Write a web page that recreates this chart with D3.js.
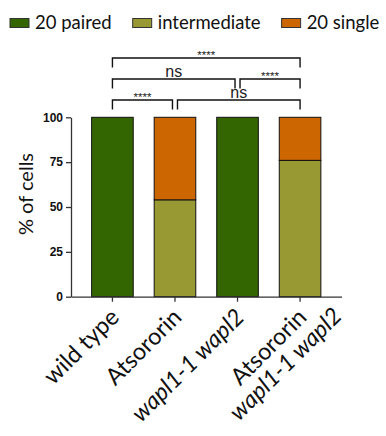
<!DOCTYPE html>
<html>
<head>
<meta charset="utf-8">
<script src="https://cdn.jsdelivr.net/npm/d3@7"></script>
<style>
  html, body { margin: 0; padding: 0; background: #fff; }
  svg { display: block; }
</style>
</head>
<body>
<svg id="chart" width="386" height="436"></svg>
<script>
// ---- data ----
const categoryLines = [["wild type"], ["Atsororin"], ["wapl1-1 wapl2"], ["Atsororin", "wapl1-1 wapl2"]];
const categoryItalic = [[false], [false], [true], [false, true]];
const categories = ["wild type", "Atsororin", "wapl1-1 wapl2", "Atsororin wapl1-1 wapl2"];
const seriesNames = ["20 paired", "intermediate", "20 single"];
const paired = [100, 0, 100, 0];
const intermediate = [0, 54, 0, 76];
const single = [0, 46, 0, 24];
const seriesColors = ["#336600", "#999933", "#CC6600"];
const yTicks = [0, 25, 50, 75, 100];
const yLabel = "% of cells";
const compFrom = [0, 0, 2, 0, 1];
const compTo = [3, 2, 3, 1, 3];
const compLabel = ["****", "ns", "****", "****", "ns"];
const compLevel = [0, 1, 1, 2, 2];

// ---- layout ----
const svg = d3.select("#chart");
const W = 386, H = 436;
const plot = { left: 71, right: 341.5, top: 117.3, bottom: 296.7 };
const labelFont = "Lato, 'Open Sans', sans-serif";
const arialFont = "'Liberation Sans', Arial, sans-serif";

svg.append("rect").attr("width", W).attr("height", H).attr("fill", "#fff");

const x = d3.scaleBand().domain(categories).range([plot.left, plot.right])
  .paddingInner(0.335).paddingOuter(0.33);
const y = d3.scaleLinear().domain([0, 100]).range([plot.bottom, plot.top]);

// stacked data
const table = categories.map((c, i) => ({ cat: c, "20 paired": paired[i], "intermediate": intermediate[i], "20 single": single[i] }));
const stacked = d3.stack().keys(seriesNames)(table);
const color = d3.scaleOrdinal().domain(seriesNames).range(seriesColors);

const barG = svg.append("g");
stacked.forEach(layer => {
  barG.append("g").attr("fill", color(layer.key))
    .selectAll("rect").data(layer.filter(d => d[1] - d[0] > 0)).join("rect")
    .attr("x", d => x(d.data.cat))
    .attr("y", d => y(d[1]))
    .attr("width", x.bandwidth())
    .attr("height", d => y(d[0]) - y(d[1]))
    .attr("stroke", "#111")
    .attr("stroke-width", 1);
});

// y axis
const yAxis = svg.append("g").attr("transform", `translate(${plot.left},0)`)
  .call(d3.axisLeft(y).tickValues(yTicks).tickSize(5).tickPadding(3).tickSizeOuter(0));
yAxis.select(".domain").attr("stroke", "#333").attr("stroke-width", 1.3);
yAxis.selectAll(".tick line").attr("stroke", "#333").attr("stroke-width", 1.3);
yAxis.selectAll(".tick text").attr("font-family", arialFont).attr("font-weight", "bold")
  .attr("font-size", 12).attr("fill", "#111");

// x axis
const xAxis = svg.append("g").attr("transform", `translate(0,${plot.bottom})`)
  .call(d3.axisBottom(x).tickSize(5).tickSizeOuter(0).tickFormat(""));
xAxis.select(".domain").attr("stroke", "#333").attr("stroke-width", 1.3);
xAxis.selectAll(".tick line").attr("stroke", "#333").attr("stroke-width", 1.3);

// x labels rotated
const xl = svg.append("g");
categories.forEach((c, i) => {
  const cx = x(c) + x.bandwidth() / 2;
  const g = xl.append("g").attr("transform", `translate(${cx + 8},${plot.bottom + 22}) rotate(-45)`);
  const lines = categoryLines[i];
  const t0 = g.append("text").attr("text-anchor", "end")
    .attr("font-family", labelFont).attr("font-size", 23.5).attr("fill", "#111")
    .attr("font-style", categoryItalic[i][0] ? "italic" : "normal")
    .text(lines[0]);
  const w0 = t0.node().getComputedTextLength();
  for (let k = 1; k < lines.length; k++) {
    g.append("text").attr("text-anchor", "middle")
      .attr("x", -w0 / 2).attr("y", 24 * k)
      .attr("font-family", labelFont).attr("font-size", 23.5).attr("fill", "#111")
      .attr("font-style", categoryItalic[i][k] ? "italic" : "normal")
      .text(lines[k]);
  }
});

// y label
svg.append("text").attr("transform", `translate(33,194) rotate(-90)`)
  .attr("text-anchor", "middle").attr("font-family", labelFont).attr("font-size", 20)
  .attr("fill", "#111").text(yLabel);

// significance brackets
const levelY = d3.scaleLinear().domain([0, 2]).range([58, 100]);
const cxOf = i => x(categories[i]) + x.bandwidth() / 2;
const brG = svg.append("g");
compFrom.forEach((f, k) => {
  const t = compTo[k], lv = compLevel[k];
  const sameLevel = d3.range(compFrom.length).filter(j => j !== k && compLevel[j] === lv);
  const gap = 2.5;
  const x1 = cxOf(f) + (sameLevel.some(j => compTo[j] === f) ? gap : 0);
  const x2 = cxOf(t) - (sameLevel.some(j => compFrom[j] === t) ? gap : 0);
  const yy = levelY(lv);
  brG.append("path")
    .attr("d", `M${x1},${yy + 9.5}V${yy}H${x2}V${yy + 9.5}`)
    .attr("fill", "none").attr("stroke", "#111").attr("stroke-width", 1.4);
  const isStars = compLabel[k].startsWith("*");
  brG.append("text")
    .attr("x", (x1 + x2) / 2)
    .attr("y", isStars ? yy + 1 : yy - 2.5)
    .attr("text-anchor", "middle")
    .attr("font-family", arialFont)
    .attr("font-size", isStars ? 11.5 : 16)
    .attr("fill", "#222")
    .text(compLabel[k]);
});

// legend
const lg = svg.append("g");
let lx = 10;
seriesNames.forEach((s, i) => {
  lg.append("rect").attr("x", lx).attr("y", 18.5).attr("width", 19).attr("height", 9)
    .attr("fill", color(s)).attr("stroke", "#333").attr("stroke-width", 1);
  const t = lg.append("text").attr("x", lx + 25).attr("y", 28.5)
    .attr("font-family", labelFont).attr("font-size", 18.5).attr("fill", "#111").text(s);
  lx += 25 + t.node().getComputedTextLength() + 21;
});
</script>
</body>
</html>
